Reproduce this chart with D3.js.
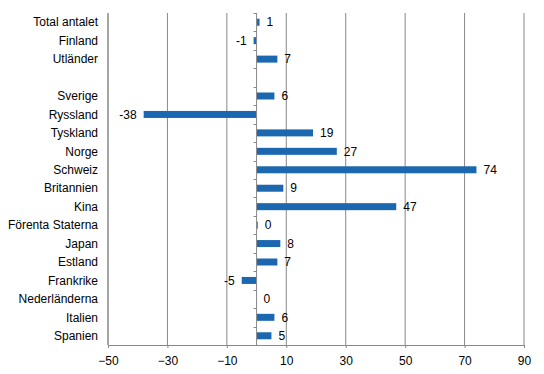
<!DOCTYPE html>
<html>
<head>
<meta charset="utf-8">
<script src="https://cdn.jsdelivr.net/npm/d3@7"></script>
<style>
  body { margin: 0; background: #fff; }
  text { font-family: "Liberation Sans", Arial, sans-serif; font-size: 12px; fill: #000; }
</style>
</head>
<body>
<div id="chart"></div>
<script>
// categories top to bottom, "" is the empty gap row
var categories = ["Total antalet", "Finland", "Utländer", "", "Sverige", "Ryssland", "Tyskland",
  "Norge", "Schweiz", "Britannien", "Kina", "Förenta Staterna", "Japan", "Estland",
  "Frankrike", "Nederländerna", "Italien", "Spanien"];
var values = [1, -1, 7, null, 6, -38, 19, 27, 74, 9, 47, 0.4, 8, 7, -5, 0, 6, 5];
var xTicks = [-50, -30, -10, 10, 30, 50, 70, 90];

var margin = {top: 13, right: 20, bottom: 29, left: 108},
    width = 544 - margin.left - margin.right,
    height = 374 - margin.top - margin.bottom;

var svg = d3.select("#chart").append("svg")
    .attr("width", 544)
    .attr("height", 374)
  .append("g")
    .attr("transform", "translate(" + margin.left + "," + margin.top + ")");

var x = d3.scaleLinear().domain([-50, 90]).range([0, width]);
var y = d3.scaleBand().domain(d3.range(categories.length)).range([0, height]);

// vertical gridlines
svg.append("g").selectAll("line")
    .data(xTicks)
    .enter().append("line")
      .attr("x1", function(d) { return x(d); })
      .attr("x2", function(d) { return x(d); })
      .attr("y1", 0)
      .attr("y2", height)
      .attr("stroke", "#888")
      .attr("stroke-width", 1);

// left border
svg.append("line")
    .attr("x1", 0).attr("x2", 0).attr("y1", 0).attr("y2", height)
    .attr("stroke", "#888");

// bottom axis
var xAxis = svg.append("g")
    .attr("transform", "translate(0," + height + ")")
    .call(d3.axisBottom(x).tickValues(xTicks).tickSize(3).tickPadding(8));
xAxis.select(".domain").attr("stroke", "#888");
xAxis.selectAll(".tick line").attr("stroke", "#888");
xAxis.selectAll("text").style("font-size", "12px").attr("fill", "#000");

// bars
var rows = categories.map(function(c, i) { return {name: c, value: values[i], i: i}; });
var barH = 7;

svg.append("g").selectAll("rect")
    .data(rows.filter(function(d) { return d.value !== null; }))
    .enter().append("rect")
      .attr("x", function(d) { return x(Math.min(0, d.value)); })
      .attr("y", function(d) { return y(d.i) + y.bandwidth() / 2 - barH / 2; })
      .attr("width", function(d) { return Math.abs(x(d.value) - x(0)); })
      .attr("height", barH)
      .attr("fill", "#1c68b0");

// zero axis with ticks at category boundaries
svg.append("line")
    .attr("x1", x(0)).attr("x2", x(0)).attr("y1", 0).attr("y2", height)
    .attr("stroke", "#888");
svg.append("g").selectAll("line")
    .data(d3.range(categories.length + 1))
    .enter().append("line")
      .attr("x1", x(0) - 3)
      .attr("x2", x(0))
      .attr("y1", function(d) { return Math.round(d * y.step()) + 0.5; })
      .attr("y2", function(d) { return Math.round(d * y.step()) + 0.5; })
      .attr("stroke", "#888");

// category labels
svg.append("g").selectAll("text")
    .data(rows)
    .enter().append("text")
      .attr("x", -10)
      .attr("y", function(d) { return y(d.i) + y.bandwidth() / 2; })
      .attr("dy", "0.35em")
      .attr("text-anchor", "end")
      .text(function(d) { return d.name; });

// value labels
svg.append("g").selectAll("text")
    .data(rows.filter(function(d) { return d.value !== null; }))
    .enter().append("text")
      .attr("x", function(d) { return d.value < 0 ? x(d.value) - 7 : x(d.value) + 7; })
      .attr("y", function(d) { return y(d.i) + y.bandwidth() / 2; })
      .attr("dy", "0.35em")
      .attr("text-anchor", function(d) { return d.value < 0 ? "end" : "start"; })
      .text(function(d) { return Math.round(d.value); });
</script>
</body>
</html>
